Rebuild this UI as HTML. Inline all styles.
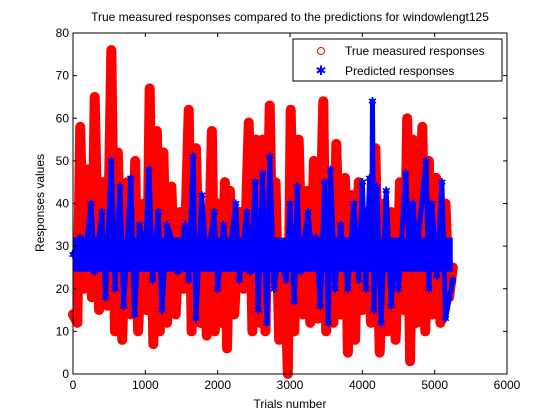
<!DOCTYPE html>
<html><head><meta charset="utf-8"><style>
body{margin:0;background:#fff;}
svg{display:block;font-family:"Liberation Sans",sans-serif;}
</style></head><body>
<svg id="chart" width="560" height="420" viewBox="0 0 560 420" xmlns="http://www.w3.org/2000/svg">
<rect x="0" y="0" width="560" height="420" fill="#fff"/>
<rect x="73" y="33" width="434" height="341" fill="#fff"/>
<g id="series"></g>
<rect x="73" y="33" width="434" height="341" fill="none" stroke="#000" stroke-width="1"/>
<g id="axes"></g>
<text x="290" y="21" font-size="12" text-anchor="middle">True measured responses compared to the predictions for windowlengt125</text>
<text x="290" y="408" font-size="12" text-anchor="middle">Trials number</text>
<text x="44" y="203" font-size="12" text-anchor="middle" transform="rotate(-90 44 203)">Responses values</text>
<g>
<rect x="293" y="39" width="209" height="42" fill="#fff" stroke="#000" stroke-width="1"/>
<circle cx="321" cy="51" r="3.5" fill="none" stroke="#f00" stroke-width="1"/>
<text x="345" y="55" font-size="12">True measured responses</text>
<text x="321" y="75" font-size="13" fill="#00f" text-anchor="middle">✱</text>
<text x="345" y="75" font-size="12">Predicted responses</text>
</g>
</svg>
<script>
const xTicks=[0,1000,2000,3000,4000,5000,6000];
const yTicks=[0,10,20,30,40,50,60,70,80];
const trueTrials=[0,60,100,150,200,260,300,360,420,470,530,580,620,680,750,800,860,900,980,1020,1060,1110,1160,1200,1250,1300,1360,1420,1480,1530,1600,1640,1700,1760,1800,1850,1920,1960,2000,2050,2100,2130,2170,2230,2300,2360,2430,2480,2530,2580,2620,2660,2720,2760,2800,2850,2920,2970,3010,3060,3120,3180,3240,3280,3330,3390,3460,3500,3550,3600,3640,3700,3760,3800,3850,3900,3950,4000,4060,4120,4180,4240,4300,4350,4400,4460,4520,4580,4620,4660,4700,4750,4830,4870,4920,4970,5020,5080,5150,5200,5250];
const trueValues=[14,12,58,20,48,18,65,15,45,16,76,10,52,8,45,14,50,10,40,15,67,7,57,10,52,12,44,14,38,20,62,10,53,12,38,9,57,10,40,12,45,6,43,14,38,20,59,10,55,12,55,10,63,22,45,8,30,0,62,10,55,14,43,12,50,13,64,10,45,12,54,14,46,5,42,8,45,15,38,12,53,5,40,10,38,8,45,15,60,3,55,12,58,10,50,14,46,12,40,18,25];
const predTrials=[0,100,150,250,300,400,450,530,580,650,700,800,850,920,1000,1050,1100,1180,1230,1300,1400,1450,1550,1600,1660,1700,1780,1850,1950,2000,2080,2150,2250,2300,2400,2450,2520,2560,2620,2680,2720,2780,2850,2950,3000,3060,3100,3140,3250,3300,3360,3420,3480,3530,3560,3620,3700,3800,3880,3950,4000,4050,4100,4130,4140,4160,4200,4260,4330,4400,4450,4500,4600,4660,4700,4750,4880,4920,4960,5030,5100,5150,5250];
const predValues=[28,32,25,40,24,38,18,50,20,44,16,46,14,35,28,48,22,38,15,35,30,24,35,22,51,13,42,25,38,20,35,26,40,22,38,24,45,15,47,12,51,20,28,22,40,17,44,24,38,28,32,16,45,12,48,20,35,20,40,22,45,20,46,25,64,15,44,12,43,16,30,20,47,25,40,28,50,20,40,23,45,13,22];
const X0=73,X1=507,Y0=374,Y1=33;
function xs(t){return X0+(t-0)/6000*(X1-X0);}
function ys(v){return Y0-(v-0)/80*(Y0-Y1);}
const NS='http://www.w3.org/2000/svg';
const axes=document.getElementById('axes');
const series=document.getElementById('series');
xTicks.forEach(t=>{
  const x=xs(t);
  const a=document.createElementNS(NS,'line');
  
  
  a.setAttribute('x1',x);a.setAttribute('x2',x);a.setAttribute('y1',Y0);a.setAttribute('y2',Y0-4);a.setAttribute('stroke','#000');
  axes.appendChild(a);
  const b=document.createElementNS(NS,'line');
  
  
  b.setAttribute('x1',x);b.setAttribute('x2',x);b.setAttribute('y1',Y1);b.setAttribute('y2',Y1+4);b.setAttribute('stroke','#000');
  axes.appendChild(b);
  const l=document.createElementNS(NS,'text');
  
  
  l.setAttribute('x',x);l.setAttribute('y',Y0+15);l.setAttribute('font-size','12');l.setAttribute('text-anchor','middle');
  l.textContent=t;axes.appendChild(l);
});
yTicks.forEach(v=>{
  const y=ys(v);
  const a=document.createElementNS(NS,'line');
  
  
  a.setAttribute('x1',X0);a.setAttribute('x2',X0+4);a.setAttribute('y1',y);a.setAttribute('y2',y);a.setAttribute('stroke','#000');
  axes.appendChild(a);
  const b=document.createElementNS(NS,'line');
  
  
  b.setAttribute('x1',X1);b.setAttribute('x2',X1-4);b.setAttribute('y1',y);b.setAttribute('y2',y);b.setAttribute('stroke','#000');
  axes.appendChild(b);
  const l=document.createElementNS(NS,'text');
  
  
  l.setAttribute('x',X0-4);l.setAttribute('y',y+4);l.setAttribute('font-size','12');l.setAttribute('text-anchor','end');
  l.textContent=v;axes.appendChild(l);
});
function band(tr,vals,color,w,name){
  const p=document.createElementNS(NS,'polyline');
  
  
  p.setAttribute('points',tr.map((t,i)=>xs(t)+','+ys(vals[i])).join(' '));
  p.setAttribute('fill','none');p.setAttribute('stroke',color);p.setAttribute('stroke-width',w);p.setAttribute('stroke-linejoin','round');p.setAttribute('stroke-linecap','round');
  series.appendChild(p);
}
band(trueTrials,trueValues,'#f00',10,'true-responses-band');
trueTrials.forEach((t,i)=>{
  const c=document.createElementNS(NS,'circle');
  
  
  c.setAttribute('cx',xs(t));c.setAttribute('cy',ys(trueValues[i]));c.setAttribute('r',4);c.setAttribute('fill','#f00');c.setAttribute('stroke','#f00');
  series.appendChild(c);
});
const core=document.createElementNS(NS,'rect');


core.setAttribute('x',xs(0));core.setAttribute('y',ys(32));core.setAttribute('width',xs(5250)-xs(0));core.setAttribute('height',ys(24)-ys(32));core.setAttribute('fill','#00f');
series.appendChild(core);
band(predTrials,predValues,'#00f',5,'predicted-responses-band');
predTrials.forEach((t,i)=>{
  const s=document.createElementNS(NS,'text');
  
  
  s.setAttribute('x',xs(t));s.setAttribute('y',ys(predValues[i])+4);s.setAttribute('font-size','11');s.setAttribute('fill','#00f');s.setAttribute('text-anchor','middle');
  s.textContent='✱';series.appendChild(s);
});
</script>
</body></html>
